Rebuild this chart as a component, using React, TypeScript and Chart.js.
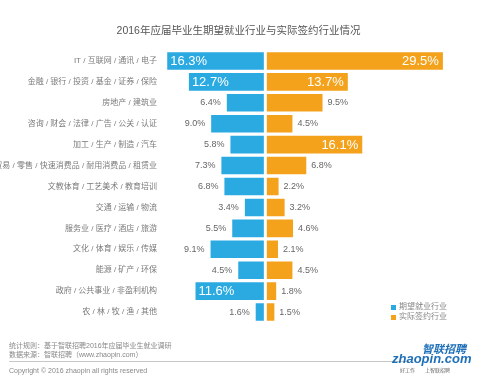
import React, { useEffect, useRef } from "react";
import { Chart, registerables } from "chart.js";

Chart.register(...registerables);

const categories = [
  "IT / 互联网 / 通讯 / 电子",
  "金融 / 银行 / 投资 / 基金 / 证券 / 保险",
  "房地产 / 建筑业",
  "咨询 / 财会 / 法律 / 广告 / 公关 / 认证",
  "加工 / 生产 / 制造 / 汽车",
  "贸易 / 零售 / 快速消费品 / 耐用消费品 / 租赁业",
  "文教体育 / 工艺美术 / 教育培训",
  "交通 / 运输 / 物流",
  "服务业 / 医疗 / 酒店 / 旅游",
  "文化 / 体育 / 娱乐 / 传媒",
  "能源 / 矿产 / 环保",
  "政府 / 公共事业 / 非盈利机构",
  "农 / 林 / 牧 / 渔 / 其他",
];
const expectedShare = [16.3, 12.7, 6.4, 9.0, 5.8, 7.3, 6.8, 3.4, 5.5, 9.1, 4.5, 11.6, 1.6];
const actualShare = [29.5, 13.7, 9.5, 4.5, 16.1, 6.8, 2.2, 3.2, 4.6, 2.1, 4.5, 1.8, 1.5];
const seriesNames = ["期望就业行业", "实际签约行业"];
const seriesColors = ["#2AAAE1", "#F4A21C"];

const FONT = '"Liberation Sans", "Noto Sans CJK SC", sans-serif';

const labelPlugin = {
  id: "valueLabels",
  afterDatasetsDraw(chart: any) {
    const ctx = chart.ctx;
    const xs = chart.scales.x;
    const x0 = xs.getPixelForValue(0);
    const area = chart.chartArea;
    ctx.save();
    ctx.fillStyle = "#ffffff";
    ctx.fillRect(x0 - 1.5, area.top, 3, area.bottom - area.top);
    chart.data.datasets.forEach((ds: any, di: number) => {
      const meta = chart.getDatasetMeta(di);
      meta.data.forEach((bar: any, i: number) => {
        const v = Math.abs(ds.data[i]);
        const txt = v.toFixed(1) + "%";
        const big = v >= 10;
        ctx.textBaseline = "middle";
        if (big) {
          ctx.font = "13px " + FONT;
          ctx.fillStyle = "#ffffff";
        } else {
          ctx.font = "9px " + FONT;
          ctx.fillStyle = "#666666";
        }
        if (di === 0) {
          if (big) {
            ctx.textAlign = "left";
            ctx.fillText(txt, bar.x + 3, bar.y + 0.5);
          } else {
            ctx.textAlign = "right";
            ctx.fillText(txt, bar.x - 6, bar.y);
          }
        } else {
          if (big) {
            ctx.textAlign = "right";
            ctx.fillText(txt, bar.x - 4, bar.y + 0.5);
          } else {
            ctx.textAlign = "left";
            ctx.fillText(txt, bar.x + 5, bar.y);
          }
        }
      });
    });
    ctx.restore();
  },
};

export default function App() {
  const canvasRef = useRef<HTMLCanvasElement | null>(null);

  useEffect(() => {
    if (!canvasRef.current) return;
    const chart = new Chart(canvasRef.current, {
      type: "bar",
      data: {
        labels: categories,
        datasets: [
          {
            label: seriesNames[0],
            data: expectedShare.map((v) => -v),
            backgroundColor: seriesColors[0],
            barPercentage: 0.84,
            categoryPercentage: 1,
          },
          {
            label: seriesNames[1],
            data: actualShare,
            backgroundColor: seriesColors[1],
            barPercentage: 0.84,
            categoryPercentage: 1,
          },
        ],
      },
      options: {
        indexAxis: "y",
        responsive: true,
        maintainAspectRatio: false,
        animation: false,
        layout: { padding: { left: 0, right: 7, top: 50.5, bottom: 55.5 } },
        plugins: {
          legend: { display: false },
          tooltip: { enabled: false },
          title: { display: false },
        },
        scales: {
          x: {
            stacked: true,
            display: false,
            min: -17.5,
            max: 34,
          },
          y: {
            stacked: true,
            grid: { display: false, drawTicks: false },
            border: { display: false },
            ticks: {
              autoSkip: false,
              padding: 3,
              color: "#7a7a7a",
              font: { size: 8, family: FONT },
            },
            afterFit: (s: any) => {
              s.width = 160;
            },
          },
        },
      },
      plugins: [labelPlugin],
    } as any);
    return () => chart.destroy();
  }, []);

  const abs = (o: React.CSSProperties): React.CSSProperties => ({ position: "absolute", ...o });

  return (
    <div style={abs({ left: 0, top: 0, width: 477, height: 378, background: "#fff", fontFamily: FONT, overflow: "hidden" })}>
      <div style={abs({ left: 0, top: 0, width: 477, height: 378 })}>
        <canvas ref={canvasRef} />
      </div>
      <div style={abs({ left: 0, top: 23, width: 477, textAlign: "center", fontSize: 10.5, lineHeight: "14px", color: "#555" })}>
        2016年应届毕业生期望就业行业与实际签约行业情况
      </div>
      {seriesNames.map((n, i) => (
        <div key={n} style={abs({ left: 391, top: 302 + i * 10, fontSize: 8, lineHeight: "10px", color: "#888", whiteSpace: "nowrap" })}>
          <span style={{ display: "inline-block", width: 5, height: 5, background: seriesColors[i], marginRight: 3, verticalAlign: "middle" }} />
          <span style={{ verticalAlign: "middle" }}>{n}</span>
        </div>
      ))}
      <div style={abs({ left: 9, top: 340.5, fontSize: 7, lineHeight: "9px", color: "#888", whiteSpace: "nowrap" })}>
        统计规则：基于智联招聘2016年应届毕业生就业调研
        <br />
        数据来源：智联招聘（www.zhaopin.com）
      </div>
      <div style={abs({ left: 9, top: 361, width: 400, height: 1, background: "#c8c8c8" })} />
      <div style={abs({ left: 9, top: 365.5, fontSize: 7, lineHeight: "9px", color: "#888", whiteSpace: "nowrap" })}>
        Copyright © 2016 zhaopin all rights reserved
      </div>
      <div style={abs({ left: 422, top: 343, fontSize: 11, lineHeight: "12px", color: "#1E6FB8", fontWeight: "bold", fontStyle: "italic", whiteSpace: "nowrap" })}>
        智联招聘
      </div>
      <div style={abs({ left: 392, top: 352, fontSize: 13, lineHeight: "13px", color: "#1E6FB8", fontWeight: "bold", fontStyle: "italic", whiteSpace: "nowrap" })}>
        zhaopin.com
      </div>
      <div style={abs({ left: 400, top: 367, fontSize: 5, lineHeight: "6px", color: "#666", whiteSpace: "nowrap" })}>
        好工作　　上智联招聘
      </div>
    </div>
  );
}
